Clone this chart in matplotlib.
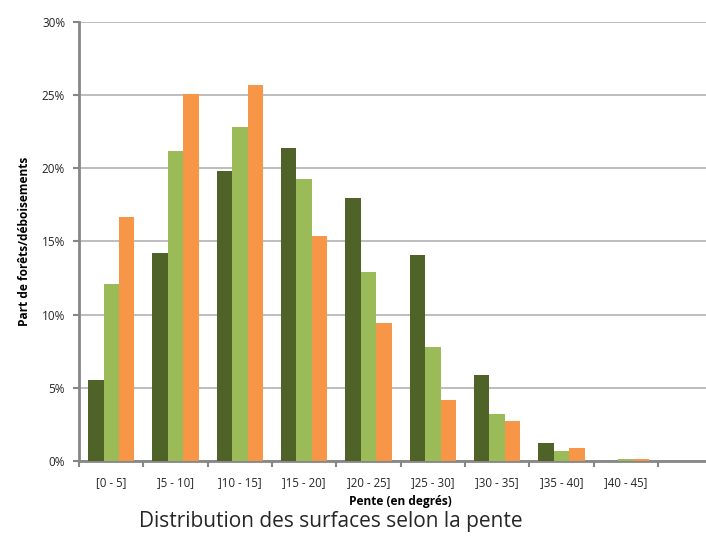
import numpy as np
import matplotlib
matplotlib.use("Agg")
import matplotlib.pyplot as plt
from matplotlib.ticker import PercentFormatter

categories = ["[0 - 5]", "]5 - 10]", "]10 - 15]", "]15 - 20]", "]20 - 25]",
              "]25 - 30]", "]30 - 35]", "]35 - 40]", "]40 - 45]", ""]
serie_foncee = [5.5, 14.2, 19.8, 21.4, 18.0, 14.1, 5.9, 1.2, 0.0, 0.0]
serie_claire = [12.1, 21.2, 22.8, 19.3, 12.9, 7.8, 3.2, 0.7, 0.15, 0.0]
serie_orange = [16.7, 25.1, 25.7, 15.4, 9.4, 4.2, 2.7, 0.9, 0.15, 0.0]

plt.rcParams["font.family"] = ["Open Sans", "DejaVu Sans"]
plt.rcParams["text.color"] = "#262626"
plt.rcParams["xtick.labelcolor"] = "#262626"
plt.rcParams["ytick.labelcolor"] = "#262626"

fig = plt.figure(figsize=(7.06, 5.36), dpi=100)
# axes deborde a droite (image recadree)
ax = fig.add_axes([0.112, 0.140, 0.911, 0.819])

x = np.arange(len(categories))
w = 0.24
ax.bar(x - w, serie_foncee, w, color="#4F6228", zorder=3)
ax.bar(x, serie_claire, w, color="#9BBB59", zorder=3)
ax.bar(x + w, serie_orange, w, color="#F79646", zorder=3)

ax.set_xlim(-0.5, len(categories) - 0.5)
ax.set_ylim(0, 30)
ax.yaxis.set_major_formatter(PercentFormatter(decimals=0))
ax.set_yticks(np.arange(0, 31, 5))
ax.set_xticks(x)
ax.set_xticklabels(categories, fontsize=8.3)
ax.set_xticks(np.arange(-0.5, len(categories), 1), minor=True)
ax.tick_params(axis="x", which="major", length=0, pad=11)
ax.tick_params(axis="x", which="minor", length=4, width=1.5, color="#868686", direction="out")
ax.tick_params(axis="y", length=4, width=1.5, color="#868686", labelsize=8.5, pad=6)

ax.grid(axis="y", color="#b8b8b8", linewidth=1.3, zorder=0)
for s in ["top", "right"]:
    ax.spines[s].set_visible(False)
ax.spines["left"].set_color("#868686")
ax.spines["left"].set_linewidth(2)
ax.spines["bottom"].set_color("#868686")
ax.spines["bottom"].set_linewidth(2)

ax.set_ylabel("Part de forêts/déboisements", fontsize=8.6, fontweight="bold", labelpad=8)
ax.set_xlabel("Pente (en degrés)", fontsize=8.6, fontweight="bold", labelpad=4)

fig.text(0.468, 0.016, "Distribution des surfaces selon la pente", fontsize=15,
         ha="center", va="baseline")

fig.savefig("out.png", dpi=100)
